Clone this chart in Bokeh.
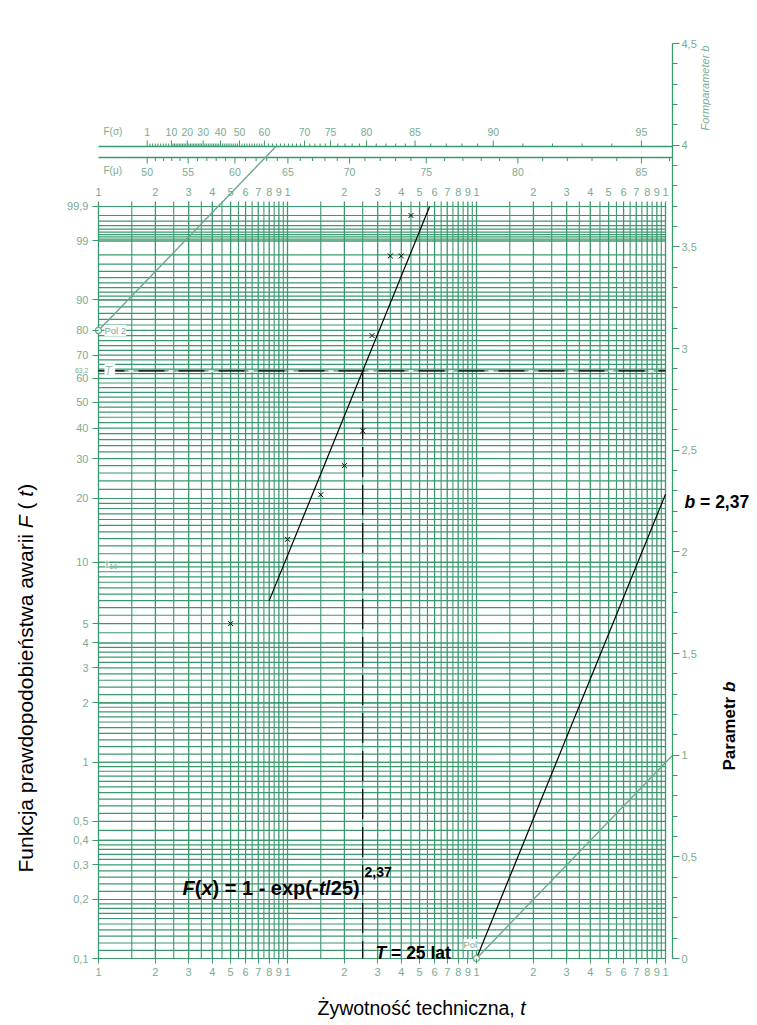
import math
import numpy as np
from bokeh.plotting import figure
from bokeh.models import (Range1d, LinearAxis, FixedTicker, SingleIntervalTicker,
                          CustomJSTickFormatter, Label)
from bokeh.core.properties import value
from bokeh.embed import file_html
from bokeh.resources import INLINE

# ------------------------------------------------------------------ data
obs_t = [5, 10, 15, 20, 25, 28, 35, 40, 45]               # years
obs_F = [5.0, 12.9, 20.8, 28.0, 39.0, 78.0, 97.9, 97.9, 99.8]  # %
T_char = 25          # characteristic life T
b_shape = 2.37       # shape parameter b
fit_t_start = 8
pol_t, pol_F = 100, 0.1      # pole of b-scale construction
pol2_t, pol2_F = 1, 80       # pole 2 (upper nomogram)
T_line_F = 63.2

F_tick_values = [0.1, 0.2, 0.3, 0.4, 0.5, 1, 2, 3, 4, 5, 10, 20, 30, 40, 50,
                 60, 70, 80, 90, 99, 99.9]
F_tick_labels = ["0,1", "0,2", "0,3", "0,4", "0,5", "1", "2", "3", "4", "5",
                 "10", "20", "30", "40", "50", "60", "70", "80", "90", "99", "99,9"]
# horizontal rulings of the probability paper: (from, to, step) in %
F_grid_bands = [(0.1, 0.2, 0.01), (0.2, 0.4, 0.02), (0.4, 1, 0.05), (1, 2, 0.1),
                (2, 4, 0.2), (4, 10, 0.5), (10, 20, 1), (20, 90, 2),
                (90, 99, 1), (99, 99.9, 0.1)]
t_decades = [1, 10, 100]
t_mantissas = [1, 2, 3, 4, 5, 6, 7, 8, 9]
t_half_mantissas = [1.5, 2.5, 3.5, 4.5, 5.5, 6.5, 7.5, 8.5, 9.5]

# upper nomogram scales: labelled values and their position on the t axis
Fmu_knots = [49, 50, 55, 60, 65, 70, 75, 80, 85, 86]
Fmu_knot_t = [1.68, 1.81, 2.98, 5.27, 10.05, 21.3, 54.2, 165.6, 746, 1050]
Fmu_labels = [50, 55, 60, 65, 70, 75, 80, 85]
Fmu_ticks = list(range(50, 87))
Fs_knots = [1, 10, 20, 30, 40, 50, 60, 70, 75, 80, 85, 90, 95]
Fs_knot_t = [1.81, 2.43, 2.95, 3.58, 4.42, 5.57, 7.55, 12.3, 16.9, 26.2, 47.3, 122.6, 746]
Fs_labels = [1, 10, 20, 30, 40, 50, 60, 70, 75, 80, 85, 90, 95]
Fs_ticks = list(range(1, 96))

# ------------------------------------------------------------------ geometry
FONT = "Liberation Sans"
GRID = "#3a996c"
LAB = "#7aab92"
POLC = "#6aa88a"

W, H = 755, 1020
X0, PXDEC = 98.0, 189.0      # t = 1 at x = 98 px, 189 px per decade
Y0, PXZ = 958.0, 85.07       # F = 0.1 % at y = 958 px


def zF(F):
    return math.log(-math.log(1.0 - F / 100.0))


Z_MIN = zF(0.1)


def page_t(px):
    return 10 ** ((px - X0) / PXDEC)


def page_z(py):
    return Z_MIN + (Y0 - py) / PXZ


T_AX = page_t(672)              # position of the b-axis
B_PER_PX = 4.5 / (958 - 43)

p = figure(width=W, height=H, x_axis_type="log",
           x_range=Range1d(page_t(0), page_t(W)),
           y_range=Range1d(page_z(H), page_z(0)),
           output_backend="svg", toolbar_location=None, tools="", title=None,
           min_border=0, min_border_left=0, min_border_right=0,
           min_border_top=0, min_border_bottom=0)
p.outline_line_color = None
p.xgrid.visible = False
p.ygrid.visible = False
p.background_fill_color = "white"
p.border_fill_color = "white"

# ---- horizontal rulings
hz = []
for a, b, s in F_grid_bands:
    for v in np.arange(a, b + s / 2, s):
        hz.append(zF(round(float(v), 4)))
hz.append(zF(T_line_F))
p.segment(x0=[1] * len(hz), x1=[1000] * len(hz), y0=hz, y1=hz,
          line_color=GRID, line_width=1.2)

# ---- vertical rulings
t_major = [m * d for d in t_decades for m in t_mantissas] + [1000]
t_half = [m * d for d in t_decades for m in t_half_mantissas]
ztop = page_z(201)
p.segment(x0=t_major, x1=t_major, y0=[Z_MIN] * len(t_major), y1=[ztop] * len(t_major),
          line_color=GRID, line_width=1.3)
p.segment(x0=t_half, x1=t_half, y0=[Z_MIN] * len(t_half), y1=[ztop] * len(t_half),
          line_color=GRID, line_width=1.1)

# top t labels
lab_txt = [str(int(round(t / 10 ** math.floor(math.log10(t) + 1e-9)))) for t in t_major]
p.text(x=t_major, y=[page_z(191)] * len(t_major), text=lab_txt,
       text_font=value(FONT), text_font_size=value("11px"), text_color=LAB,
       text_align="center", text_baseline="middle")

# ---- upper nomogram scales
zs_line = page_z(146)
zm_line = page_z(157)
for zl in (zs_line, zm_line):
    p.segment(x0=[1], x1=[T_AX], y0=[zl], y1=[zl], line_color=GRID, line_width=1.6)


def scale_pos(vals, knots, knot_t):
    return list(10 ** np.interp(vals, knots, np.log10(knot_t)))


fs_t = scale_pos(Fs_ticks, Fs_knots, Fs_knot_t)
fs_len = [6 if v in Fs_labels else 3 for v in Fs_ticks]
p.segment(x0=fs_t, x1=fs_t, y0=[zs_line] * len(fs_t),
          y1=[zs_line + L / PXZ for L in fs_len], line_color=GRID, line_width=1)
p.text(x=scale_pos(Fs_labels, Fs_knots, Fs_knot_t), y=[page_z(131)] * len(Fs_labels),
       text=[str(v) for v in Fs_labels], text_font=value(FONT),
       text_font_size=value("10.5px"), text_color=LAB, text_align="center",
       text_baseline="middle")

fm_t = scale_pos(Fmu_ticks, Fmu_knots, Fmu_knot_t)
fm_len = [6 if v in Fmu_labels else 3.5 for v in Fmu_ticks]
p.segment(x0=fm_t, x1=fm_t, y0=[zm_line] * len(fm_t),
          y1=[zm_line - L / PXZ for L in fm_len], line_color=GRID, line_width=1)
p.text(x=scale_pos(Fmu_labels, Fmu_knots, Fmu_knot_t), y=[page_z(171)] * len(Fmu_labels),
       text=[str(v) for v in Fmu_labels], text_font=value(FONT),
       text_font_size=value("10.5px"), text_color=LAB, text_align="center",
       text_baseline="middle")
p.text(x=[page_t(103), page_t(103)], y=[page_z(131), page_z(170)],
       text=["F(σ)", "F(μ)"], text_font=value(FONT), text_font_size=value("10px"),
       text_color=LAB, text_align="left", text_baseline="middle")

# ---- construction lines (green)
z_p2 = zF(pol2_F)
t_p2_end = pol2_t * math.exp(zs_line - z_p2)
p.line([pol2_t, t_p2_end], [z_p2, zs_line], line_color=POLC, line_width=1.4)
z_p = zF(pol_F)
p.line([pol_t, T_AX], [z_p, z_p + math.log(T_AX / pol_t)], line_color=POLC, line_width=1.4)

# ---- T reference lines
zT = zF(T_line_F)
p.line([1, 1000], [zT, zT], line_color="white", line_width=1.5, line_dash="5 35",
       line_dash_offset=10)
p.line([1, 1000], [zT, zT], line_color="black", line_width=1.3, line_dash="26 14")
p.line([T_char, T_char], [zT, Z_MIN], line_color="black", line_width=1.2,
       line_dash="30 8")

# ---- fitted Weibull line and b-line
t_end = T_char * (-math.log(1 - 0.999)) ** (1 / b_shape)
p.line([fit_t_start, t_end],
       [b_shape * math.log(fit_t_start / T_char), b_shape * math.log(t_end / T_char)],
       line_color="black", line_width=1.2)
p.line([pol_t, 1000], [z_p, z_p + b_shape * math.log(1000 / pol_t)],
       line_color="black", line_width=1.2)

# ---- observations
p.scatter(x=obs_t, y=[zF(F) for F in obs_F], marker="x", size=7,
          line_color="black", line_width=1)

# pole markers
p.scatter(x=[pol2_t, pol_t], y=[z_p2, z_p], marker="circle", size=6,
          fill_color="white", line_color=POLC, line_width=1.2)

# ---- axes (drawn at fixed locations inside the full-canvas frame)
xa = p.xaxis[0]
xa.fixed_location = Z_MIN
xa.bounds = (1, 1000)
xa.ticker = FixedTicker(ticks=t_major)
xa.formatter = CustomJSTickFormatter(
    code="const e = Math.floor(Math.log10(tick) + 1e-9); return String(Math.round(tick / Math.pow(10, e)));")
xa.axis_line_color = None
xa.major_tick_line_color = GRID
xa.major_tick_out = 5
xa.major_tick_in = 0
xa.minor_tick_line_color = None
xa.major_label_text_font = FONT
xa.major_label_text_font_size = "11px"
xa.major_label_text_color = LAB
xa.major_label_standoff = 4

F_tick_z = [zF(v) for v in F_tick_values]
ya = p.yaxis[0]
ya.fixed_location = 1.0
ya.bounds = (Z_MIN, zF(99.9))
ya.ticker = FixedTicker(ticks=F_tick_z)
ya.formatter = CustomJSTickFormatter(args=dict(vals=F_tick_z, labs=F_tick_labels), code="""
let best = 0; let d = 1e9;
for (let i = 0; i < vals.length; i++) { const e = Math.abs(vals[i] - tick); if (e < d) { d = e; best = i; } }
return labs[best];
""")
ya.axis_line_color = None
ya.major_tick_line_color = GRID
ya.major_tick_out = 6
ya.major_tick_in = 0
ya.minor_tick_line_color = None
ya.major_label_text_font = FONT
ya.major_label_text_font_size = "11px"
ya.major_label_text_color = LAB
ya.major_label_standoff = 4

p.extra_y_ranges = {"b": Range1d((958 - H) * B_PER_PX, 958 * B_PER_PX)}
ra = LinearAxis(y_range_name="b", fixed_location=T_AX, bounds=(0, 4.5),
                ticker=SingleIntervalTicker(interval=0.5, num_minor_ticks=5),
                formatter=CustomJSTickFormatter(
                    code="return String(Math.round(tick * 10) / 10).replace('.', ',');"))
ra.axis_line_color = GRID
ra.axis_line_width = 1.3
ra.major_tick_line_color = GRID
ra.minor_tick_line_color = GRID
ra.major_tick_out = 7
ra.major_tick_in = 0
ra.minor_tick_out = 5
ra.minor_tick_in = 0
ra.major_label_text_font = FONT
ra.major_label_text_font_size = "11px"
ra.major_label_text_color = LAB
ra.major_label_standoff = 2
p.add_layout(ra, "right")

# ---- texts
REG = {" ": 278, "(": 333, ")": 333, ",": 278, "-": 333, ".": 278, "/": 278, "=": 584,
       "F": 611, "P": 667, "T": 611, "Ż": 611, "a": 556, "b": 556, "c": 500, "d": 556,
       "e": 556, "h": 556, "i": 222, "j": 222, "k": 500, "l": 222, "m": 833, "n": 556,
       "o": 556, "p": 556, "r": 333, "s": 500, "t": 278, "w": 722, "x": 500, "y": 500,
       "z": 500, "ś": 500, "ć": 500, "ń": 556}
BOLD = {" ": 278, "(": 333, ")": 333, ",": 278, "-": 333, ".": 278, "/": 278, "=": 584,
        "F": 611, "P": 667, "T": 611, "Ż": 611, "a": 556, "b": 611, "c": 556, "d": 611,
        "e": 556, "h": 611, "i": 278, "j": 278, "k": 556, "l": 278, "m": 889, "n": 611,
        "o": 611, "p": 611, "r": 389, "s": 556, "t": 333, "w": 778, "x": 556, "y": 556,
        "z": 500, "ś": 556, "ć": 556, "ń": 611}


def tw(s, size, bold):
    tab = BOLD if bold else REG
    return sum(tab.get(ch, 556) for ch in s) * size / 1000.0


def put(px, py, text, size, style="normal", color="black", angle=0.0,
        align="left", baseline="alphabetic", bg=None):
    lab = Label(x=page_t(px), y=page_z(py), text=text, text_font=FONT,
                text_font_size=f"{size}px", text_font_style=style,
                text_color=color, text_align=align, text_baseline=baseline,
                angle=angle)
    if bg is not None:
        lab.background_fill_color = bg
    p.add_layout(lab)


def put_runs(px, py, runs, size, angle=0.0, color="black"):
    for text, style in runs:
        bold = "bold" in style
        stripped = text.lstrip(" ")
        lead = tw(text[:len(text) - len(stripped)], size, bold)
        if angle == 0.0:
            put(px + lead, py, stripped, size, style, color=color, angle=angle)
            px += tw(text, size, bold)
        else:
            put(px, py - lead, stripped, size, style, color=color, angle=angle)
            py -= tw(text, size, bold)


# formula
put_runs(182, 887, [("F", "bold italic"), ("(", "bold"), ("x", "bold italic"),
                    (") = 1 - exp(-", "bold"), ("t", "bold italic"), ("/25)", "bold")], 20)
put(364, 871, "2,37", 14, "bold")
put_runs(375, 952, [("T", "bold italic"), (" = 25 lat", "bold")], 17.5)
put_runs(684, 501, [("b", "bold italic"), (" = 2,37", "bold")], 17.5)

# axis titles
put_runs(317, 1007, [("Żywotność techniczna, ", "normal"), ("t", "italic")], 19.5)
put_runs(25, 872, [("Funkcja prawdopodobieństwa awarii ", "normal"), ("F", "italic"),
                   (" ( ", "normal"), ("t", "italic"), (")", "normal")], 21,
         angle=math.pi / 2)
put_runs(729, 770, [("Parametr ", "bold"), ("b", "bold italic")], 17, angle=math.pi / 2)
put(704, 130, "Formparameter b", 11, "italic", color=LAB, angle=math.pi / 2)

# small scale annotations
put(88, 370, "63,2", 7, color=LAB, align="right", baseline="middle")
put(104, 330, "Pol 2", 9.5, color=LAB, baseline="middle", bg="white")
put(104, 370, "T ", 12, "italic", color="#9fbfae", baseline="middle", bg="white")
put(105, 563, "t", 11, color=LAB, baseline="middle", bg="white")
put(109, 566, "10", 7, color=LAB, baseline="middle")
put(463, 944, "Pol", 9.5, color=LAB, baseline="middle", bg="white")

open("out.html", "w").write(file_html(p, INLINE))
